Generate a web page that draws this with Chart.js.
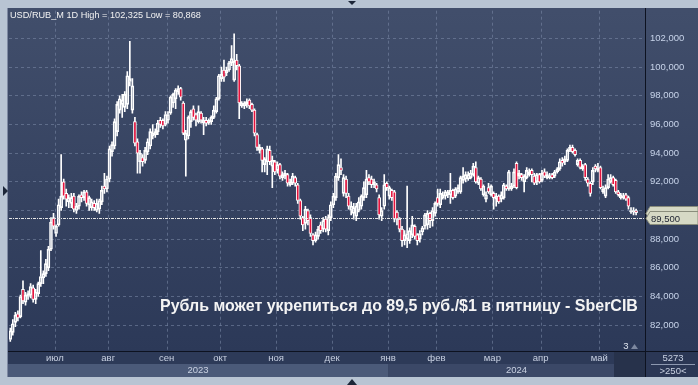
<!DOCTYPE html>
<html>
<head>
<meta charset="utf-8">
<script src="https://cdn.jsdelivr.net/npm/chart.js@4.4.1/dist/chart.umd.min.js"></script>
<style>
  html, body { margin: 0; padding: 0; background: #b8c4d3; }
  #wrap { width: 698px; height: 385px; }
</style>
</head>
<body>
<div id="wrap"><canvas id="chart" width="698" height="385"></canvas></div>
<script>
// daily candles USD/RUB_M
const opens = [
  81.0, 81.5, 82.2, 82.8, 82.6, 84.5, 83.6, 84.0, 84.1, 84.6,
  83.8, 84.2, 84.9, 85.3, 85.6, 86.0, 87.3, 89.5, 88.4, 89.0,
  90.2, 92.0, 91.2, 90.6, 90.5, 91.0, 90.0, 90.3, 91.1, 90.9,
  91.3, 90.4, 90.2, 90.5, 90.0, 90.1, 90.6, 91.7, 91.5, 92.2,
  94.1, 94.5, 95.5, 97.0, 97.4, 97.2, 97.4, 99.0, 97.0, 96.2,
  94.8, 93.4, 93.7, 93.5, 94.1, 94.5, 95.2, 95.3, 95.5, 96.3,
  96.3, 96.0, 96.3, 96.8, 97.5, 97.8, 98.3, 98.5, 97.5, 94.9,
  95.2, 96.2, 97.1, 96.7, 96.2, 96.8, 96.1, 96.3, 96.1, 96.2,
  96.5, 96.9, 97.8, 99.2, 99.8, 99.6, 99.8, 100.3, 99.1, 100.5,
  100.1, 97.3, 97.3, 97.4, 97.7, 97.4, 97.0, 95.3, 94.2, 94.3,
  93.2, 93.4, 94.2, 93.1, 93.4, 92.8, 93.2, 92.3, 92.4, 92.5,
  91.8, 91.9, 92.3, 91.8, 90.7, 89.5, 89.1, 90.0, 89.5, 88.3,
  87.9, 88.2, 89.0, 88.7, 89.4, 88.6, 89.5, 90.4, 90.9, 92.3,
  93.0, 91.2, 92.2, 91.0, 90.0, 89.8, 89.6, 90.0, 90.3, 90.9,
  91.1, 92.3, 92.2, 91.8, 91.8, 90.9, 89.6, 90.3, 91.9, 91.0,
  91.4, 91.3, 89.9, 89.4, 88.7, 87.9, 88.0, 87.9, 88.3, 88.9,
  88.3, 88.0, 88.5, 88.9, 89.0, 89.8, 89.3, 89.8, 90.9, 90.4,
  90.9, 91.0, 91.1, 91.1, 91.4, 91.0, 91.3, 91.3, 92.1, 92.2,
  92.2, 92.3, 92.5, 93.0, 91.9, 92.2, 91.1, 90.8, 91.6, 91.1,
  91.2, 90.8, 91.0, 90.8, 90.9, 91.7, 91.5, 91.5, 91.7, 93.3,
  92.4, 92.5, 92.0, 92.3, 92.5, 92.8, 92.4, 92.0, 92.5, 92.1,
  92.7, 92.3, 92.3, 92.5, 92.4, 92.7, 92.9, 93.5, 93.4, 93.5,
  94.2, 94.4, 94.2, 93.2, 93.5, 92.9, 93.2, 92.2, 91.9, 92.0,
  93.1, 92.8, 93.0, 91.3, 91.0, 91.6, 92.0, 92.3, 92.1, 91.3,
  90.9, 90.9, 91.1, 90.9, 89.9, 89.9, 90.0
];
const highs = [
  81.8, 82.4, 82.9, 83.0, 84.1, 85.1, 84.3, 84.4, 84.9, 84.8,
  84.5, 85.0, 87.2, 85.8, 86.6, 87.5, 89.5, 89.8, 89.0, 90.8,
  93.9, 92.2, 91.5, 91.1, 91.2, 91.2, 90.5, 91.1, 91.3, 91.4,
  91.4, 91.0, 90.8, 90.7, 90.8, 90.8, 91.7, 92.6, 92.4, 94.5,
  94.8, 96.4, 97.6, 98.0, 98.1, 98.3, 99.7, 101.8, 99.2, 96.5,
  95.0, 94.2, 93.9, 94.4, 95.0, 95.7, 96.0, 95.7, 96.3, 96.5,
  96.4, 96.9, 96.9, 98.0, 98.2, 98.5, 98.7, 98.6, 97.6, 95.6,
  96.6, 97.0, 97.3, 96.8, 97.3, 96.9, 96.5, 96.5, 96.4, 96.6,
  97.3, 97.9, 99.5, 100.0, 100.5, 100.0, 100.4, 101.5, 102.325, 100.9,
  100.2, 97.6, 97.6, 97.8, 97.8, 97.5, 97.1, 95.4, 94.6, 94.4,
  93.7, 94.5, 94.5, 93.8, 93.5, 93.4, 93.3, 92.7, 92.8, 92.6,
  92.2, 92.6, 92.4, 91.9, 90.8, 89.6, 90.3, 90.1, 89.7, 88.4,
  88.5, 88.9, 89.2, 89.5, 89.6, 89.7, 90.6, 91.2, 92.6, 93.9,
  93.6, 92.5, 92.4, 91.2, 90.6, 90.5, 90.5, 90.9, 91.1, 92.0,
  92.8, 92.5, 92.4, 92.2, 91.9, 91.1, 90.2, 92.5, 92.0, 91.7,
  91.5, 91.4, 90.0, 89.5, 88.9, 88.6, 91.7, 88.8, 89.6, 89.0,
  88.4, 88.6, 88.9, 89.8, 90.0, 89.9, 90.2, 90.6, 91.5, 91.5,
  91.3, 91.4, 91.4, 92.6, 91.5, 91.6, 91.8, 92.4, 93.0, 92.7,
  92.7, 92.8, 93.3, 93.4, 92.4, 92.3, 91.8, 91.3, 91.9, 91.8,
  91.3, 91.2, 91.1, 91.3, 91.9, 91.8, 92.8, 91.9, 92.9, 93.4,
  92.8, 92.6, 92.5, 93.0, 92.9, 92.9, 92.6, 92.6, 92.6, 92.8,
  92.9, 92.7, 92.6, 92.6, 92.8, 93.0, 93.6, 93.7, 93.8, 94.3,
  94.57, 94.57, 94.3, 93.6, 93.6, 93.2, 93.3, 92.3, 92.0, 93.0,
  93.2, 93.3, 93.1, 91.7, 91.8, 92.5, 92.5, 92.4, 92.2, 91.4,
  91.2, 91.2, 91.2, 91.0, 90.2, 90.2, 90.1
];
const lows = [
  80.868, 81.3, 81.9, 82.3, 82.5, 83.5, 83.4, 83.8, 83.9, 83.6,
  83.5, 84.0, 84.7, 84.9, 85.4, 85.8, 87.2, 88.7, 88.2, 88.9,
  90.0, 90.8, 90.3, 90.2, 90.2, 89.9, 89.8, 90.1, 90.6, 90.7,
  90.3, 90.0, 90.0, 90.0, 89.9, 89.8, 90.4, 91.2, 91.3, 92.0,
  93.8, 94.3, 95.2, 96.8, 96.5, 96.9, 97.1, 98.7, 96.8, 94.5,
  92.6, 92.6, 93.1, 93.3, 93.9, 94.3, 95.0, 95.1, 95.3, 95.8,
  95.7, 95.9, 96.1, 96.7, 97.2, 97.1, 98.1, 97.7, 95.3, 92.4,
  95.0, 95.8, 96.3, 95.9, 96.1, 96.1, 95.3, 95.9, 96.0, 96.0,
  96.4, 96.8, 97.7, 99.0, 99.0, 99.4, 99.7, 100.1, 99.0, 99.8,
  96.4, 97.2, 97.1, 97.2, 97.1, 96.9, 95.2, 94.2, 94.0, 92.7,
  92.7, 92.5, 93.2, 91.6, 92.5, 92.6, 92.2, 92.1, 92.2, 91.7,
  91.7, 91.8, 91.7, 90.5, 89.4, 88.6, 88.7, 89.0, 88.2, 87.6,
  87.8, 88.0, 88.4, 88.5, 88.5, 88.3, 89.3, 90.2, 90.7, 92.1,
  92.5, 91.0, 90.9, 90.1, 89.7, 89.4, 89.3, 89.9, 90.1, 90.7,
  90.9, 91.8, 91.6, 91.6, 91.3, 89.4, 89.3, 90.1, 91.4, 90.8,
  90.7, 89.2, 89.0, 88.5, 87.5, 87.6, 87.4, 87.7, 88.1, 88.0,
  87.6, 87.8, 88.3, 88.7, 88.7, 88.8, 88.9, 89.6, 90.3, 90.2,
  90.8, 90.8, 90.9, 90.5, 90.8, 90.9, 91.2, 91.2, 91.9, 92.0,
  92.1, 92.2, 92.4, 91.9, 91.8, 91.4, 91.0, 90.6, 91.2, 91.0,
  90.1, 90.3, 90.5, 90.6, 90.8, 91.4, 91.4, 91.4, 91.6, 91.5,
  92.2, 92.1, 91.3, 92.2, 92.4, 92.0, 91.8, 91.8, 91.9, 92.0,
  92.3, 92.2, 92.2, 92.2, 92.3, 92.6, 92.8, 93.1, 93.2, 93.4,
  94.1, 94.0, 93.8, 93.1, 92.9, 92.8, 92.1, 91.7, 91.0, 91.8,
  92.7, 92.7, 91.5, 91.2, 90.9, 91.5, 91.9, 91.7, 91.2, 91.0,
  90.8, 90.8, 90.7, 90.1, 89.8, 89.7, 89.7
];
const closes = [
  81.6, 82.1, 82.7, 82.5, 84.0, 83.7, 84.1, 84.2, 84.7, 83.8,
  84.3, 84.9, 85.4, 85.6, 86.3, 87.3, 89.2, 88.9, 88.9, 90.4,
  91.0, 91.0, 90.8, 90.9, 90.9, 90.1, 90.3, 91.0, 90.9, 91.3,
  90.5, 90.9, 90.6, 90.2, 90.5, 90.7, 91.4, 91.5, 92.2, 94.3,
  94.6, 96.2, 97.4, 97.8, 97.7, 98.1, 99.4, 99.2, 98.7, 94.7,
  94.0, 94.0, 93.4, 94.2, 94.8, 95.5, 95.4, 95.5, 96.1, 96.0,
  95.9, 96.7, 96.7, 97.9, 98.1, 98.4, 98.5, 97.9, 95.4, 95.4,
  96.5, 96.9, 96.5, 96.3, 96.9, 96.3, 96.3, 96.1, 96.3, 96.5,
  97.0, 97.8, 99.4, 99.5, 99.3, 99.8, 100.3, 100.6, 100.4, 100.1,
  97.5, 97.5, 97.5, 97.6, 97.3, 97.0, 95.4, 94.4, 94.4, 93.5,
  93.6, 94.3, 93.4, 93.5, 92.7, 93.2, 92.4, 92.5, 92.6, 91.9,
  92.0, 92.4, 91.9, 90.7, 89.6, 89.0, 90.1, 89.3, 88.4, 87.9,
  88.3, 88.7, 88.6, 89.3, 88.7, 89.5, 90.4, 91.0, 92.4, 93.2,
  92.8, 92.3, 91.2, 90.3, 90.3, 90.2, 90.3, 90.6, 91.0, 91.6,
  92.2, 92.0, 91.8, 92.0, 91.5, 89.7, 90.0, 91.8, 91.6, 91.6,
  90.9, 89.4, 89.4, 88.7, 87.9, 88.3, 88.4, 88.6, 89.0, 88.2,
  87.9, 88.4, 88.8, 89.7, 89.8, 89.3, 90.0, 90.5, 90.5, 91.2,
  91.1, 91.3, 91.3, 91.4, 90.9, 91.5, 91.6, 92.3, 92.4, 92.5,
  92.5, 92.6, 93.1, 92.0, 92.3, 91.5, 91.7, 91.1, 91.3, 91.7,
  90.9, 91.0, 90.6, 91.1, 91.8, 91.5, 92.7, 91.7, 92.7, 91.6,
  92.6, 92.3, 92.4, 92.8, 92.7, 92.5, 91.9, 92.5, 92.0, 92.6,
  92.4, 92.5, 92.4, 92.3, 92.7, 92.9, 93.4, 93.3, 93.6, 94.2,
  94.4, 94.1, 93.9, 93.5, 93.0, 93.1, 92.3, 91.9, 91.2, 92.8,
  92.9, 93.0, 91.6, 91.5, 91.6, 92.2, 92.3, 91.8, 91.3, 91.1,
  91.1, 91.0, 90.8, 90.3, 90.0, 90.0, 89.85
];

const slotCount = 250;                       // bar slots on the time axis (last ones empty)
const monthStarts = [18, 39, 62, 83, 105, 127, 149, 168, 190, 209, 232];
const monthNames = ['июл', 'авг', 'сен', 'окт', 'ноя', 'дек', 'янв', 'фев', 'мар', 'апр', 'май'];
const yearNames = ['2023', '2024'];
const yearStartSlot = 149;
const yTicks = [82, 84, 86, 88, 90, 92, 94, 96, 98, 100, 102];
const targetLevel = 89.5;
const barsShown = '>250<';
const countLabel = '5273';

const fmt = v => v.toFixed(3).replace('.', ',');
const slots = Array.from({ length: slotCount }, (_, i) => i);

const bodyData = opens.map((o, i) => [o, closes[i]]);
const lowWick = lows.map((l, i) => [l, Math.min(opens[i], closes[i])]);
const highWick = highs.map((h, i) => [Math.max(opens[i], closes[i]), h]);
const bodyFill = opens.map((o, i) => closes[i] < o ? '#e3143e' : 'rgba(0,0,0,0)');

const FONT = '"Liberation Sans", Arial, sans-serif';

function fitFont(ctx, text, weight, width) {
  ctx.font = weight + ' 20px ' + FONT;
  const s = 20 * width / ctx.measureText(text).width;
  return weight + ' ' + s.toFixed(2) + 'px ' + FONT;
}

function tri(ctx, pts, color) {
  ctx.fillStyle = color;
  ctx.beginPath();
  ctx.moveTo(pts[0], pts[1]);
  ctx.lineTo(pts[2], pts[3]);
  ctx.lineTo(pts[4], pts[5]);
  ctx.closePath();
  ctx.fill();
}

const backdrop = {
  id: 'backdrop',
  beforeDraw(chart) {
    const ctx = chart.ctx;
    const a = chart.chartArea;
    ctx.save();
    ctx.fillStyle = '#b8c4d3';
    ctx.fillRect(0, 0, 698, 385);
    const g = ctx.createLinearGradient(0, a.top, 0, a.bottom);
    g.addColorStop(0, '#414e6b');
    g.addColorStop(1, '#2c3958');
    ctx.fillStyle = g;
    ctx.fillRect(8, 8, 690, a.bottom - 8);
    // time axis band
    ctx.fillStyle = '#2d3a58';
    ctx.fillRect(8, a.bottom, 690, 26);
    const xs = chart.scales.x;
    const step = xs.width / slotCount;
    const yearX = xs.getPixelForValue(yearStartSlot) - step / 2;
    ctx.fillStyle = '#4b5a79';
    ctx.fillRect(8, a.bottom + 13, yearX - 8, 13);
    ctx.fillStyle = '#3b4867';
    ctx.fillRect(yearX, a.bottom + 13, 614 - yearX, 13);
    ctx.fillStyle = '#27324b';
    ctx.fillRect(614, a.bottom, a.right - 614 + 1, 26);
    ctx.fillStyle = '#2b3755';
    ctx.fillRect(a.right + 1, a.bottom, 698 - a.right, 26);
    ctx.restore();
  },
  beforeDatasetsDraw(chart) {
    const ctx = chart.ctx;
    const a = chart.chartArea;
    const xs = chart.scales.x;
    const step = xs.width / slotCount;
    ctx.save();
    ctx.strokeStyle = 'rgba(125,140,170,0.55)';
    ctx.lineWidth = 1;
    ctx.setLineDash([3, 3]);
    monthStarts.forEach(m => {
      const px = Math.round(xs.getPixelForValue(m) - step / 2) + 0.5;
      ctx.beginPath();
      ctx.moveTo(px, a.top);
      ctx.lineTo(px, a.bottom);
      ctx.stroke();
    });
    ctx.restore();
  },
  afterDatasetsDraw(chart) {
    const ctx = chart.ctx;
    const a = chart.chartArea;
    const ys = chart.scales.y;
    const py = Math.round(ys.getPixelForValue(targetLevel)) + 0.5;
    ctx.save();
    ctx.strokeStyle = '#e6e6e6';
    ctx.lineWidth = 1;
    ctx.setLineDash([3, 1, 1, 1]);
    ctx.beginPath();
    ctx.moveTo(a.left, py);
    ctx.lineTo(a.right, py);
    ctx.stroke();
    ctx.restore();
  },
  afterDraw(chart) {
    const ctx = chart.ctx;
    const a = chart.chartArea;
    const xs = chart.scales.x;
    const ys = chart.scales.y;
    const step = xs.width / slotCount;
    ctx.save();
    // frame lines
    ctx.fillStyle = '#0d1220';
    ctx.fillRect(8, a.bottom, 690, 1);
    ctx.fillRect(a.right, 8, 1, a.bottom + 26 - 8);
    ctx.fillStyle = '#7f8aa3';
    ctx.fillRect(7, 8, 1, a.bottom + 26 - 8);
    // outer arrows
    tri(ctx, [3, 186, 3, 196, 8, 191], '#1c2638');
    tri(ctx, [348, 1, 356, 1, 352, 5], '#1c2638');
    tri(ctx, [347, 385, 357, 385, 352, 379], '#1c2638');

    // header
    ctx.textBaseline = 'middle';
    ctx.textAlign = 'left';
    ctx.fillStyle = '#f2f2f2';
    const title = 'USD/RUB_M 1D High = ' + fmt(Math.max(...highs)) + ' Low = ' + fmt(Math.min(...lows));
    ctx.font = fitFont(ctx, title, 'normal', 191);
    ctx.fillText(title, 10, 15);

    // note
    const note = 'Рубль может укрепиться до 89,5 руб./$1 в пятницу - SberCIB';
    ctx.font = fitFont(ctx, note, 'bold', 478);
    ctx.fillStyle = '#f4f4f4';
    ctx.fillText(note, 160, 307);

    // month and year labels
    ctx.textAlign = 'center';
    ctx.font = '9.5px ' + FONT;
    ctx.fillStyle = '#c9d1e2';
    monthStarts.forEach((m, k) => {
      const px = xs.getPixelForValue(m) - step / 2;
      ctx.fillText(monthNames[k], px, a.bottom + 7);
    });
    const yearX = xs.getPixelForValue(yearStartSlot) - step / 2;
    ctx.fillText(yearNames[0], (8 + yearX) / 2, a.bottom + 19.5);
    ctx.fillText(yearNames[1], (yearX + a.right) / 2, a.bottom + 19.5);

    ctx.fillStyle = '#dfe4ee';
    ctx.fillText('3', 626, a.bottom - 5);
    tri(ctx, [631, a.bottom - 2, 638, a.bottom - 2, 634.5, a.bottom - 7], '#7d889f');

    // counters in the corner
    ctx.fillStyle = '#c9d1e2';
    ctx.fillText(countLabel, 673, a.bottom + 7);
    ctx.fillText(barsShown, 673, a.bottom + 20);
    ctx.fillStyle = '#8d98b0';
    ctx.fillRect(651, a.bottom + 13, 44, 1);

    // price tags
    const tag = (v, textColor) => {
      const cy = Math.round(ys.getPixelForValue(v));
      ctx.fillStyle = '#d6d9c5';
      ctx.strokeStyle = '#8a8d7c';
      ctx.lineWidth = 1;
      ctx.beginPath();
      ctx.moveTo(a.right + 1, cy + 0.5);
      ctx.lineTo(a.right + 5, cy - 6.5);
      ctx.lineTo(698, cy - 6.5);
      ctx.lineTo(698, cy + 6.5);
      ctx.lineTo(a.right + 5, cy + 6.5);
      ctx.closePath();
      ctx.fill();
      ctx.stroke();
      ctx.fillStyle = textColor;
      ctx.textAlign = 'left';
      ctx.font = '9.5px ' + FONT;
      ctx.fillText(fmt(v), a.right + 6, cy + 1);
    };
    tag(closes[closes.length - 1], '#2a3040');
    tag(targetLevel, '#1d2230');
    ctx.restore();
  }
};

new Chart(document.getElementById('chart'), {
  type: 'bar',
  data: {
    labels: slots,
    datasets: [
      {
        label: 'body',
        data: bodyData,
        backgroundColor: bodyFill,
        borderColor: '#ffffff',
        borderWidth: 1,
        borderSkipped: false,
        barThickness: 3,
        grouped: false
      },
      {
        label: 'wickLow',
        data: lowWick,
        backgroundColor: '#ffffff',
        borderWidth: 0,
        barThickness: 1,
        grouped: false
      },
      {
        label: 'wickHigh',
        data: highWick,
        backgroundColor: '#ffffff',
        borderWidth: 0,
        barThickness: 1,
        grouped: false
      }
    ]
  },
  options: {
    responsive: false,
    animation: false,
    devicePixelRatio: 1,
    layout: { padding: { left: 9, top: 8, right: 0, bottom: 34 } },
    plugins: { legend: { display: false }, tooltip: { enabled: false } },
    scales: {
      x: { display: false, offset: true },
      y: {
        position: 'right',
        min: 80.2,
        max: 103.94,
        afterBuildTicks: s => { s.ticks = yTicks.map(v => ({ value: v })); },
        afterFit: s => { s.width = 53; },
        grid: { color: 'rgba(125,140,170,0.55)', drawTicks: false, lineWidth: 1 },
        border: { display: false, dash: [3, 3] },
        ticks: {
          color: '#c8d4ea',
          padding: 5,
          font: { family: FONT, size: 9.5 },
          callback: v => fmt(v)
        }
      }
    }
  },
  plugins: [backdrop]
});
</script>
</body>
</html>
